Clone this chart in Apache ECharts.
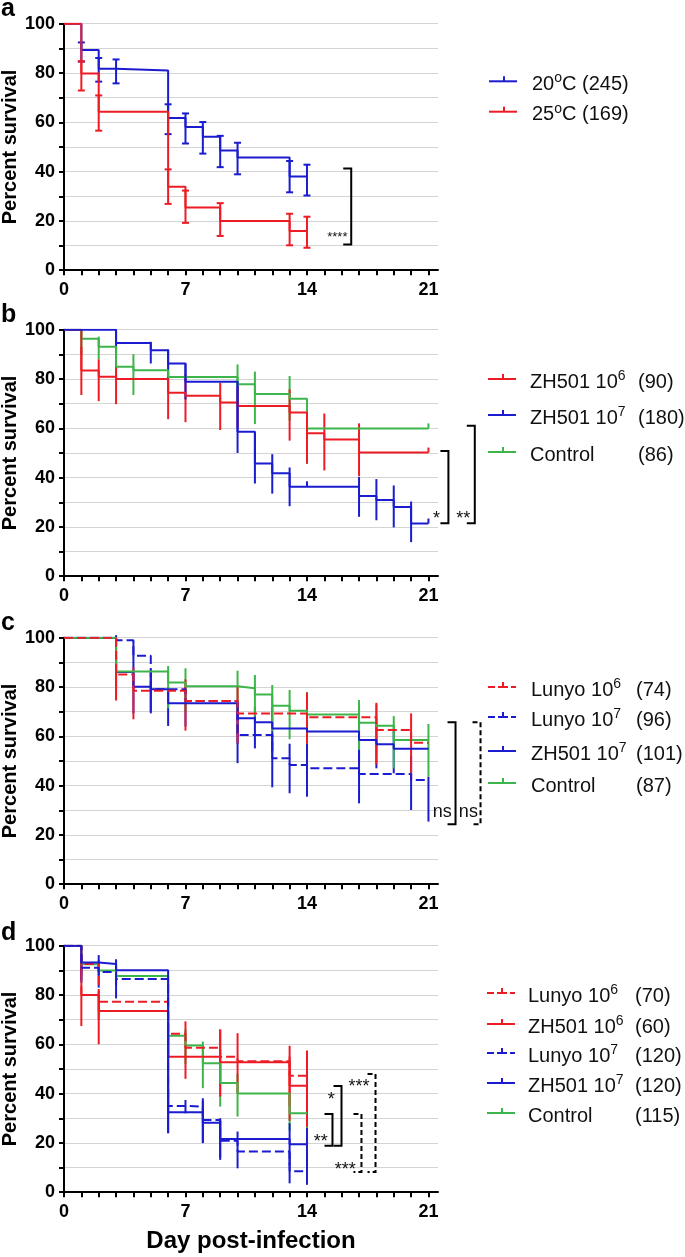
<!DOCTYPE html>
<html><head><meta charset="utf-8">
<script src="https://cdn.jsdelivr.net/npm/echarts@6/dist/echarts.min.js"></script>
<style>html,body{margin:0;padding:0;background:#fff}#c{width:685px;height:1257px}</style>
</head><body><div id="c"></div>
<script>
const FONT = "'Liberation Sans', Arial, Helvetica, sans-serif";
const RED = '#ed1c24', BLUE = '#1b1bcf', GREEN = '#3db54a';

// ---------- tick labels ----------
const xTickValues = [0,1,2,3,4,5,6,7,8,9,10,11,12,13,14,15,16,17,18,19,20,21];
const xLabelValues = [0, 7, 14, 21];
const yTickValues = [0,10,20,30,40,50,60,70,80,90,100];

// ---------- panel a ----------
const a20_t = [0,1,2,3,6,7,8,9,10,13,14];
const a20_s = [100,89.3,81.7,81,61.7,58.1,54.1,48.6,45.7,38,38];
const a20_err = [[1,84.6,92.4],[2,76.5,86.1],[3,75.8,85.5],[6,55.2,67.3],[7,51.4,63.6],[8,47.3,60.1],[9,41.8,54.5],[10,38.9,51.7],[13,31.6,44.3],[14,30.3,42.8]];
const a25_t = [0,1,2,6,7,9,13,14];
const a25_s = [100,79.8,64.3,33.9,25.4,20,15.9,15.9];
const a25_err = [[1,72.9,84.8],[2,56.6,70.9],[6,26.9,40.9],[7,19.2,32.3],[9,13.9,27.2],[13,10.1,22.9],[14,9.1,21.7]];

// ---------- panel b ----------
const b6_t = [0,1,2,3,6,7,9,10,13,14,15,17,21];
const b6_s = [100,83.4,80.9,80,74.4,73.2,70.5,69,66.4,58,55.5,50.2,50.2];
const b6_err = [[1,73.5,93],[2,71,88],[3,69.8,87.4],[6,63.7,80],[7,62.5,82],[9,59.3,78.5],[10,60,77],[13,55,75.8],[14,45.7,68.3],[15,42.9,66],[17,40.6,62],[21,50.2,52.2]];
const b7_t = [0,3,5,6,7,10,11,12,13,17,18,19,20,21];
const b7_s = [100,94.6,91.7,86.3,78.9,58.6,45.7,41.8,36.3,32.5,30.9,28.1,21.4,21.4];
const b7_err = [[3,89.7,100],[5,86.3,95.1],[6,80,92],[7,71.7,86.3],[10,50,79],[11,37.6,58.6],[12,33.5,49.5],[13,28.4,44.1],[14,36.3,38.5],[17,24.1,40.3],[18,22.7,39.4],[19,19.8,36.8],[20,13.8,30.3],[21,21.4,23.4]];
const bC_t = [0,1,2,3,4,6,10,11,13,14,21];
const bC_s = [100,96.3,93.1,85,83.6,80.8,77.9,73.9,72,59.9,59.9];
const bC_err = [[1,90,100],[2,88,97.2],[3,80,90],[4,73.5,90.1],[6,75,86],[10,70,85.9],[11,61.7,83],[13,63,81.2],[14,45.5,68],[21,59.9,62]];

// ---------- panel c ----------
const cL6_t = [0,3,4,7,10,14,18,20,21];
const cL6_s = [100,85.1,78.5,74.3,69.2,67.7,62.6,57.4,57.4];
const cL6_err = [[3,74.5,95],[4,66.9,88],[7,62.3,83.1],[10,57.2,80],[14,57,77.7],[18,48.6,73.6],[20,42.3,69.3]];
const cL7_t = [0,3,4,5,7,10,12,13,14,17,20,21];
const cL7_s = [100,99,92.7,79.1,74.3,60.5,51.1,48.4,47,44.7,42.3,42.3];
const cL7_err = [[3,97,101],[4,85,98.4],[5,69.3,87],[7,64,80],[10,49.1,70],[12,39.3,61],[13,36.9,57],[14,35.5,56],[17,32.8,55],[20,30.1,52],[21,25.4,43.6]];
const cZ7_t = [0,3,4,5,6,10,11,12,14,17,18,19,21];
const cZ7_s = [100,86.1,80.1,79.1,73.4,67.3,65.7,63.2,61.9,58.5,56.8,55,55];
const cZ7_err = [[3,80,92],[4,69.3,85],[5,70,86],[6,64.2,80],[10,57,73],[11,55.1,72],[12,53,72],[14,52,70],[17,50,67],[18,47,65],[19,45,63]];
const cC_t = [0,3,6,7,10,11,12,13,14,17,18,19,21];
const cC_s = [100,86.3,81.8,80.3,79.5,77,72.4,70.4,68.8,65.5,64.3,58.5,58.5];
const cC_err = [[3,75,97],[6,71.4,88.5],[7,70,87.6],[10,70,86.6],[11,68,84.9],[12,62,80.8],[13,58.8,78.8],[14,57,78],[17,54.5,74.7],[18,53,73],[19,47,68.2],[21,43.6,65]];

// ---------- panel d ----------
const dL6_t = [0,1,2,6,7,9,10,13,14];
const dL6_s = [100,92.6,77.3,64.3,58.6,55,53.1,47.2,47.2];
const dL6_err = [[1,88,96],[2,70,81.7],[6,55,64.3],[7,46,69.3],[9,45,66],[10,40,64.5],[13,35,59.4],[14,30,57.5]];
const dZ6_t = [0,1,2,6,9,13,14];
const dZ6_s = [100,80,73.5,55,52.7,43.2,43.2];
const dZ6_err = [[1,67.4,83.5],[2,60,80],[6,45,64],[9,38.8,66],[13,29,55],[14,26.5,55]];
const dL7_t = [0,1,2,3,6,7,8,9,10,13,14];
const dL7_s = [100,91.1,89.3,86.5,35,34.7,29.3,20.9,16.5,8.5,8.5];
const dL7_err = [[1,85,96],[2,83,94],[3,78.6,92],[6,23.9,45],[7,32,37.4],[8,19.9,38.1],[9,13.1,30],[10,9.7,24.6],[13,3.6,16],[14,3,16]];
const dZ7_t = [0,1,2,3,6,8,9,13,14];
const dZ7_s = [100,93.2,92.6,90,32.4,28.2,21.6,19.5,19.5];
const dZ7_err = [[1,86,97],[2,88,96.2],[3,84,94.5],[6,24,41],[8,20,37],[9,14,29],[13,11,28],[14,11,26]];
const dC_t = [0,1,2,3,6,7,8,9,10,13,14];
const dC_s = [100,92.5,89.9,87.7,63.5,59.5,52.3,44.3,40,32,32];
const dC_err = [[6,55,72],[7,52,66],[8,42.2,61.1],[9,34.7,52],[10,30.7,48],[13,25,40],[14,25,40]];

// ---------- significance brackets: [day, top %, bottom %, dashed] ----------
const aBrackets = [[16.55,41.3,10.4,0]];
const aStars = ['****'];
const aStarPos = [[15.75,13.3]];
const bBrackets = [[22.15,50.8,21.5,0],[23.67,61,21.5,0]];
const bStars = ['*','**'];
const bStarPos = [[21.46,23],[23.0,23]];
const cBrackets = [[22.56,65.7,24.3,0],[24.0,65.7,24.3,1]];
const cStars = ['ns','ns'];
const cStarPos = [[21.8,29.2],[23.3,29.2]];
const dBrackets = [[15.99,43.1,18.8,0],[15.47,31.7,18.8,0],[17.95,48,8.2,1],[17.14,31.7,8.2,1]];
const dStars = ['*','**','***','***'];
const dStarPos = [[15.4,37.4],[14.8,20.4],[17.0,42.6],[16.2,9.1]];

// ---------- legends ----------
const aLegNames = ['20{s|o}C (245)', '25{s|o}C (169)'];
const bLegNames = ['ZH501 10{s|6}', 'ZH501 10{s|7}', 'Control'];
const bLegN = ['(90)', '(180)', '(86)'];
const cLegNames = ['Lunyo 10{s|6}', 'Lunyo 10{s|7}', 'ZH501 10{s|7}', 'Control'];
const cLegN = ['(74)', '(96)', '(101)', '(87)'];
const dLegNames = ['Lunyo 10{s|6}', 'ZH501 10{s|6}', 'Lunyo 10{s|7}', 'ZH501 10{s|7}', 'Control'];
const dLegN = ['(70)', '(60)', '(120)', '(120)', '(115)'];
const panelLetters = ['a','b','c','d'];
const yTitle = 'Percent survival';
const xTitle = 'Day post-infection';

// ================= build =================
const tops = [23.7, 329.7, 637.7, 945.7];
const H = 246.5;

function curve(g, t, s, color, dashed) {
  return { type:'line', xAxisIndex:g, yAxisIndex:g, data:t.map((x,i)=>[x,s[i]]),
    step:'end', symbol:'none', showSymbol:false, silent:true, animation:false,
    lineStyle:{ color, width:2, type: dashed ? [9,4] : 'solid' } };
}
function errs(g, err, color, caps) {
  return { type:'custom', xAxisIndex:g, yAxisIndex:g, data:err, encode:{x:0, y:[1,2]},
    silent:true, animation:false, clip:false,
    renderItem(params, api) {
      const t = api.value(0), lo = api.value(1), hi = api.value(2);
      const p1 = api.coord([t, lo]), p2 = api.coord([t, hi]);
      const st = { stroke: color, lineWidth: 2 };
      const ch = [{ type:'line', shape:{x1:p1[0],y1:p1[1],x2:p2[0],y2:p2[1]}, style:st }];
      if (caps) {
        ch.push({ type:'line', shape:{x1:p1[0]-3.5,y1:p1[1],x2:p1[0]+3.5,y2:p1[1]}, style:st });
        ch.push({ type:'line', shape:{x1:p2[0]-3.5,y1:p2[1],x2:p2[0]+3.5,y2:p2[1]}, style:st });
      }
      return { type:'group', children: ch };
    } };
}
function brackets(g, data) {
  return { type:'custom', xAxisIndex:g, yAxisIndex:g, data, encode:{x:0,y:[1,2]},
    silent:true, animation:false, clip:false, z:5,
    renderItem(params, api) {
      const x = api.value(0), y1 = api.value(1), y2 = api.value(2), dashed = api.value(3);
      const p1 = api.coord([x, y1]), p2 = api.coord([x, y2]);
      return { type:'polyline', shape:{ points:[[p1[0]-8,p1[1]],[p1[0],p1[1]],[p2[0],p2[1]],[p2[0]-8,p2[1]]] },
        style:{ stroke:'#000', lineWidth:2, fill:'none', lineDash: dashed ? [5,3] : null } };
    } };
}
function stars(g, pos, labels, size) {
  return { type:'custom', xAxisIndex:g, yAxisIndex:g, data:pos, encode:{x:0,y:1},
    silent:true, animation:false, clip:false, z:5,
    renderItem(params, api) {
      const p = api.coord([api.value(0), api.value(1)]);
      return { type:'text', x:p[0], y:p[1],
        style:{ text: labels[params.dataIndex], fill:'#111', fontSize:size, fontFamily:FONT,
          align:'center', verticalAlign:'middle' } };
    } };
}

const series = [
  curve(0, a20_t, a20_s, BLUE, false), errs(0, a20_err, BLUE, true),
  curve(0, a25_t, a25_s, RED, false), errs(0, a25_err, RED, true),
  curve(1, bC_t, bC_s, GREEN, false), errs(1, bC_err, GREEN, false),
  curve(1, b6_t, b6_s, RED, false), errs(1, b6_err, RED, false),
  curve(1, b7_t, b7_s, BLUE, false), errs(1, b7_err, BLUE, false),
  curve(2, cZ7_t, cZ7_s, BLUE, false), errs(2, cZ7_err, BLUE, false),
  curve(2, cL7_t, cL7_s, BLUE, true), errs(2, cL7_err, BLUE, false),
  curve(2, cC_t, cC_s, GREEN, false), errs(2, cC_err, GREEN, false),
  curve(2, cL6_t, cL6_s, RED, true), errs(2, cL6_err, RED, false),
  curve(3, dC_t, dC_s, GREEN, false), errs(3, dC_err, GREEN, false),
  curve(3, dL6_t, dL6_s, RED, true), errs(3, dL6_err, RED, false),
  curve(3, dZ6_t, dZ6_s, RED, false), errs(3, dZ6_err, RED, false),
  curve(3, dL7_t, dL7_s, BLUE, true), errs(3, dL7_err, BLUE, false),
  curve(3, dZ7_t, dZ7_s, BLUE, false), errs(3, dZ7_err, BLUE, false),
  brackets(0, aBrackets), stars(0, aStarPos, aStars, 13),
  brackets(1, bBrackets), stars(1, bStarPos, bStars, 18),
  brackets(2, cBrackets), stars(2, cStarPos, cStars, 18),
  brackets(3, dBrackets), stars(3, dStarPos, dStars, 18)
];

// ---------- legend graphics ----------
const graphic = [];
function sym(x, y, color, dashed) {
  const st = { stroke: color, lineWidth: 2 };
  if (dashed) {
    graphic.push({ type:'line', shape:{x1:x, y1:y, x2:x+7, y2:y}, style:st });
    graphic.push({ type:'line', shape:{x1:x+10, y1:y, x2:x+20, y2:y}, style:st });
    graphic.push({ type:'line', shape:{x1:x+23, y1:y, x2:x+28, y2:y}, style:st });
  } else {
    graphic.push({ type:'line', shape:{x1:x, y1:y, x2:x+28, y2:y}, style:st });
  }
  graphic.push({ type:'line', shape:{x1:x+15, y1:y, x2:x+15, y2:y-5}, style:st });
}
function legText(x, y, text) {
  graphic.push({ type:'text', x, y, style:{ text, fill:'#111', fontSize:20, fontFamily:FONT,
    verticalAlign:'middle', lineHeight:26,
    rich:{ s:{ fontSize:14, fontFamily:FONT, fill:'#111', verticalAlign:'top', lineHeight:13 } } } });
}
function legend(names, counts, colors, dashes, symX, symYs, textX, countX) {
  names.forEach((n, i) => {
    sym(symX, symYs[i], colors[i], dashes[i]);
    legText(textX, symYs[i] + 3, n);
    if (counts) graphic.push({ type:'text', x:countX, y:symYs[i] + 3,
      style:{ text: counts[i], fill:'#111', fontSize:20, fontFamily:FONT, verticalAlign:'middle' } });
  });
}
legend(aLegNames, null, [BLUE, RED], [0,0], 489, [81.3, 111.7], 532, 0);
legend(bLegNames, bLegN, [RED, BLUE, GREEN], [0,0,0], 488, [379, 415, 452], 530, 638);
legend(cLegNames, cLegN, [RED, BLUE, BLUE, GREEN], [1,1,0,0], 488, [687, 717, 751, 783], 531, 636);
legend(dLegNames, dLegN, [RED, RED, BLUE, BLUE, GREEN], [1,0,1,0,0], 487, [993, 1024, 1053, 1083, 1113], 528, 635);
const letterY = [9.5, 315, 623, 933];
panelLetters.forEach((L, i) => graphic.push({ type:'text', x:1, y:letterY[i],
  style:{ text:L, fill:'#000', fontSize:25, fontWeight:'bold', fontFamily:FONT, verticalAlign:'middle' } }));
tops.forEach(t => graphic.push({ type:'text', x:10.5, y:t + H / 2, rotation:Math.PI / 2,
  style:{ text:yTitle, fill:'#000', fontSize:20, fontWeight:'bold', fontFamily:FONT, align:'center', verticalAlign:'middle' } }));

const option = {
  animation: false,
  backgroundColor: '#fff',
  grid: tops.map(t => ({ left:64, top:t, width:374, height:H, outerBoundsMode:'none', containLabel:false })),
  xAxis: tops.map((t, i) => ({
    gridIndex:i, type:'value', min:0, max:21.55, interval:7,
    axisLine:{ show:true, onZero:false, lineStyle:{ color:'#000', width:2 } },
    axisTick:{ show:true, customValues:xTickValues, length:5, lineStyle:{ color:'#000', width:2 } },
    axisLabel:{ customValues:xLabelValues, color:'#000', fontSize:18, fontWeight:'bold', fontFamily:FONT, margin:11 },
    splitLine:{ show:false },
    name: i === 3 ? xTitle : '', nameLocation:'middle', nameGap:37,
    nameTextStyle:{ color:'#000', fontSize:24, fontWeight:'bold', fontFamily:FONT }
  })),
  yAxis: tops.map((t, i) => ({
    gridIndex:i, type:'value', min:0, max:100, interval:20,
    axisLine:{ show:true, lineStyle:{ color:'#000', width:2 } },
    axisTick:{ show:true, customValues:yTickValues, length:5, lineStyle:{ color:'#000', width:2 } },
    axisLabel:{ color:'#000', fontSize:18, fontWeight:'bold', fontFamily:FONT, margin:9 },
    splitLine:{ show:true, lineStyle:{ color:'#d4d4d4', width:1 } }
  })),
  series,
  graphic
};
const chart = echarts.init(document.getElementById('c'), null, { renderer:'canvas' });
chart.setOption(option);
</script></body></html>
